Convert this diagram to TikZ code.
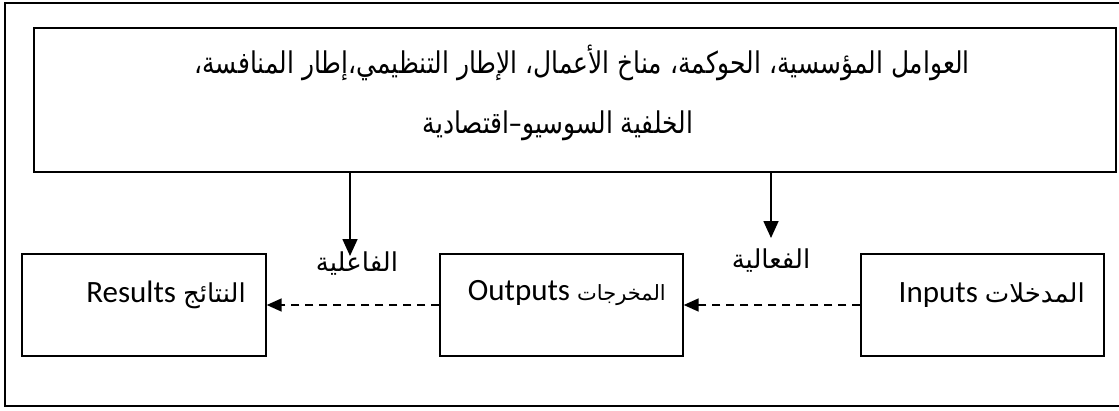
\documentclass[tikz,border=0pt]{standalone}
\usepackage{fontspec}
\setmainfont{Carlito}
\newfontfamily\arabicfont[Script=Arabic]{DejaVu Sans}
\TeXXeTstate=1
\usetikzlibrary{arrows.meta}
\newlength\lineonewidth
\newcommand\lineone{العوامل المؤسسية، الحوكمة، مناخ الأعمال، الإطار التنظيمي،إطار المنافسة،}
\AtBeginDocument{%
  \settowidth{\lineonewidth}{\arabicfont\fontsize{10}{12}\selectfont\beginR\lineone\endR}%
  \pgfmathsetmacro\topfs{10*775/\lineonewidth}%
}
\begin{document}
\begin{tikzpicture}[x=1pt,y=-1pt,
  frame/.style={draw, line width=1.4pt},
  box/.style={draw, line width=1.4pt, rectangle, inner sep=0pt},
  boxtext/.style={inner sep=0pt, anchor=base east, font=\fontsize{31}{36}\selectfont},
  toptext/.style={inner sep=0pt, font=\arabicfont\fontsize{\topfs}{\topfs}\selectfont},
  lbl/.style={inner sep=0pt, font=\arabicfont\fontsize{26}{30}\selectfont},
  down/.style={line width=1.7pt, -{Triangle[length=17pt,width=15pt]}},
  flow/.style={line width=1.7pt, dash pattern=on 8pt off 6pt, -{Triangle[length=15pt,width=13pt]}}
]
\useasboundingbox (0,0) rectangle (1119,410);
% outer frame (its right side lies beyond the picture)
\draw[frame] (1119,3) -- (5,3) -- (5,406) -- (1119,406);

\node[box, minimum width=1082pt, minimum height=144pt] (top) at (575,100) {};
\node[toptext] (l1) at (582,63) {\scalebox{1}[1.2]{\beginR\lineone\endR}};
\node[toptext] (l2) at (558,126) {\scalebox{1}[1.2]{\beginR الخلفية السوسيو–اقتصادية\endR}};

\node[box, minimum width=244pt, minimum height=102pt] (res) at (144,305) {};
\node[box, minimum width=243pt, minimum height=102pt] (out) at (561.5,305) {};
\node[box, minimum width=243pt, minimum height=102pt] (inp) at (982.5,305) {};

\node[boxtext] (tres) at (246,302) {\beginR{\arabicfont\fontsize{26}{30}\selectfont النتائج} \beginL Results\endL\endR};
\node[boxtext] (tout) at (666,300) {\beginR{\arabicfont\fontsize{21}{25}\selectfont المخرجات} \beginL Outputs\endL\endR};
\node[boxtext] (tinp) at (1085,302) {\beginR{\arabicfont\fontsize{26}{30}\selectfont المدخلات} \beginL Inputs\endL\endR};

\node[lbl] (eff) at (357,264) {\beginR الفاعلية\endR};
\node[lbl] (effc) at (771,261) {\beginR الفعالية\endR};

\coordinate (d1) at (350,256);
\coordinate (d2) at (771,238);
\draw[down] (top.south -| d1) -- (d1);
\draw[down] (top.south -| d2) -- (d2);

\draw[flow] (inp.west) -- (out.east);
\draw[flow] (out.west) -- (res.east);
\end{tikzpicture}
\end{document}
